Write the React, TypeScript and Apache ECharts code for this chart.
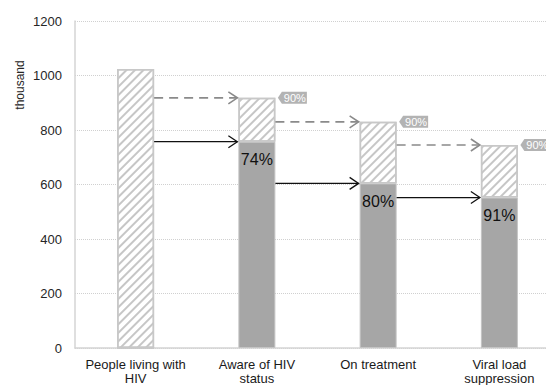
import React, { useEffect, useRef } from "react";
import * as echarts from "echarts";

// HIV care cascade (thousands)
const categories = [
  "People living with\nHIV",
  "Aware of HIV\nstatus",
  "On treatment",
  "Viral load\nsuppression",
];
// Total height of each bar (achieved + gap to target)
const totals = [1024, 918, 830, 745];
// Achieved part of each bar
const achieved = [0, 757, 604, 552];
const yTicks = { min: 0, max: 1200, interval: 200 };

const BAR_W = 37;
const FONT = "'Liberation Sans', Arial, sans-serif";

const gaps = totals.map((t, i) => t - achieved[i]);

// percentage of the previous stage reached by the achieved part
const achievedPct = achieved.map((v, i) => {
  if (i === 0) return "";
  const base = achieved[i - 1] || totals[i - 1];
  return Math.round((v / base) * 100) + "%";
});

// target ratio of each bar total to the previous total
const targetPct = totals.map((v, i) =>
  i === 0 ? "" : Math.round((v / totals[i - 1]) * 100) + "%"
);

const connectors = totals
  .map((t, i) => [i, t, achieved[i], targetPct[i]])
  .slice(1);

export default function App() {
  const ref = useRef<HTMLDivElement>(null);

  useEffect(() => {
    if (!ref.current) return;
    const chart = echarts.init(ref.current, null, { renderer: "svg" });

    chart.setOption({
      animation: false,
      grid: {
        left: 75,
        width: 485,
        top: 21,
        height: 327,
        containLabel: false,
        outerBoundsMode: "none",
      },
      xAxis: {
        type: "category",
        data: categories,
        axisLine: { show: true, lineStyle: { color: "#d4d4d4", width: 1.5 } },
        axisTick: { show: false },
        axisLabel: {
          interval: 0,
          margin: 9,
          color: "#1a1a1a",
          fontSize: 13,
          lineHeight: 14,
          fontFamily: FONT,
        },
      },
      yAxis: {
        type: "value",
        min: yTicks.min,
        max: yTicks.max,
        interval: yTicks.interval,
        axisLine: { show: true, lineStyle: { color: "#d4d4d4", width: 1.5 } },
        axisTick: { show: false },
        axisLabel: {
          margin: 13,
          color: "#262626",
          fontSize: 13,
          fontFamily: FONT,
          formatter: (v: number) => String(v),
        },
        splitLine: { lineStyle: { color: "#d0d0d0", type: "dotted", width: 1 } },
      },
      graphic: [
        {
          type: "text",
          x: 20,
          y: 85,
          rotation: Math.PI / 2,
          style: {
            text: "thousand",
            fill: "#262626",
            font: `12px ${FONT}`,
            align: "center",
            verticalAlign: "middle",
          },
        },
      ],
      series: [
        {
          type: "bar",
          stack: "cascade",
          barWidth: BAR_W,
          data: achieved,
          itemStyle: { color: "#a6a6a6", borderColor: "#c4c4c4", borderWidth: 1 },
          label: {
            show: true,
            position: "insideTop",
            distance: 10,
            color: "#111",
            fontSize: 16,
            fontFamily: FONT,
            formatter: (p: any) => achievedPct[p.dataIndex],
          },
        },
        {
          type: "bar",
          stack: "cascade",
          barWidth: BAR_W,
          data: gaps,
          itemStyle: {
            color: "#ffffff",
            borderColor: "#c8c8c8",
            borderWidth: 1.5,
            decal: {
              symbol: "rect",
              symbolSize: 1,
              dashArrayX: [1, 0],
              dashArrayY: [2, 4],
              rotation: -Math.PI / 4,
              color: "#c6c6c6",
            },
          },
        },
        {
          type: "custom",
          data: connectors,
          encode: { x: 0, y: 1 },
          clip: false,
          z: 5,
          renderItem: (params: any, api: any) => {
            const i = api.value(0) as number;
            const total = api.value(1) as number;
            const dark = api.value(2) as number;
            const pct = targetPct[i];
            const prevX = api.coord([i - 1, 0])[0];
            const curX = api.coord([i, 0])[0];
            const x0 = prevX + BAR_W / 2;
            const x1 = curX - BAR_W / 2 - 1;
            const yT = api.coord([i, total])[1];
            const yD = api.coord([i, dark])[1];
            const head = (y: number) => [
              [x1 - 9, y - 6],
              [x1, y],
              [x1 - 9, y + 6],
            ];
            const tx = curX + BAR_W / 2 + 2.5;
            return {
              type: "group",
              children: [
                {
                  type: "line",
                  shape: { x1: x0, y1: yT, x2: x1, y2: yT },
                  style: { stroke: "#8a8a8a", lineWidth: 1.6, lineDash: [9, 6] },
                },
                {
                  type: "polyline",
                  shape: { points: head(yT) },
                  style: { stroke: "#8a8a8a", lineWidth: 1.6, fill: "none" },
                },
                {
                  type: "line",
                  shape: { x1: x0, y1: yD, x2: x1, y2: yD },
                  style: { stroke: "#111", lineWidth: 1.3 },
                },
                {
                  type: "polyline",
                  shape: { points: head(yD) },
                  style: { stroke: "#111", lineWidth: 1.3, fill: "none" },
                },
                {
                  type: "polygon",
                  shape: {
                    points: [
                      [tx, yT],
                      [tx + 4, yT - 6],
                      [tx + 29, yT - 6],
                      [tx + 29, yT + 6],
                      [tx + 4, yT + 6],
                    ],
                  },
                  style: { fill: "#b3b3b3" },
                },
                {
                  type: "text",
                  x: tx + 17,
                  y: yT + 0.5,
                  style: {
                    text: pct,
                    fill: "#ffffff",
                    font: `11px ${FONT}`,
                    align: "center",
                    verticalAlign: "middle",
                  },
                },
              ],
            };
          },
        },
      ],
    });

    return () => chart.dispose();
  }, []);

  return (
    <div
      ref={ref}
      style={{ position: "fixed", left: 0, top: 0, width: 546, height: 385, background: "#fff" }}
    />
  );
}
